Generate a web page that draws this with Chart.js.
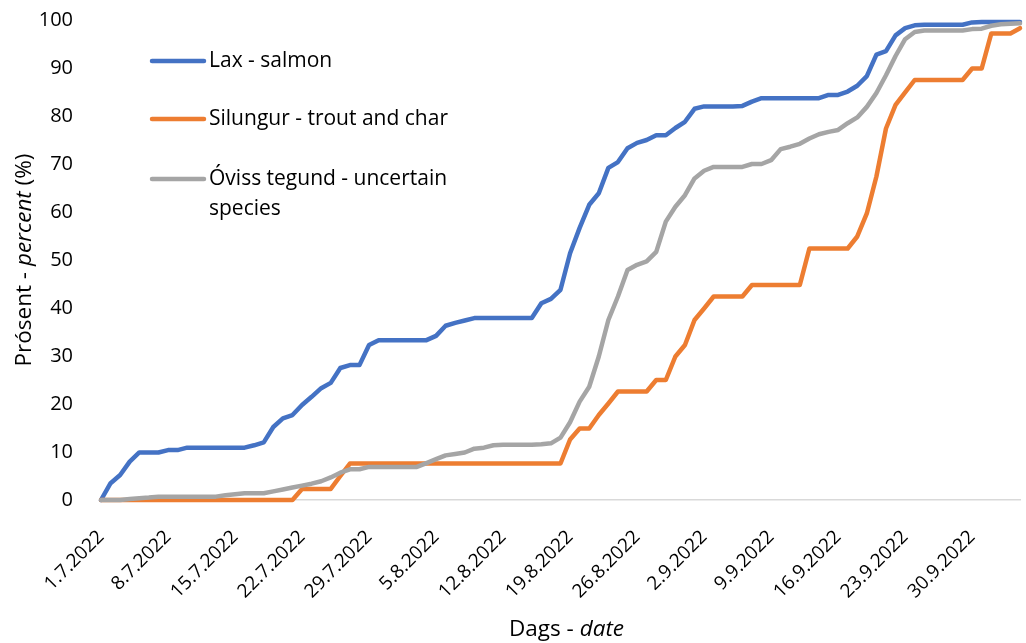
<!DOCTYPE html>
<html>
<head>
<meta charset="utf-8">
<script src="https://cdn.jsdelivr.net/npm/chart.js@4.4.1/dist/chart.umd.min.js"></script>
<style>
  body { margin: 0; background: #fff; }
  #wrap { width: 1026px; height: 643px; }
</style>
</head>
<body>
<div id="wrap"><canvas id="chart" width="1026" height="643"></canvas></div>
<script>
// Cumulative share (%) of catch per day, 1.7.2022 - 5.10.2022
const salmon = [
  0, 3.5, 5.2, 8, 9.9, 9.9, 9.9, 10.4, 10.4, 10.9,
  10.9, 10.9, 10.9, 10.9, 10.9, 10.9, 11.4, 12, 15.2, 17,
  17.7, 19.8, 21.5, 23.3, 24.4, 27.5, 28.1, 28.1, 32.3, 33.3,
  33.3, 33.3, 33.3, 33.3, 33.3, 34.2, 36.3, 36.9, 37.4, 37.9,
  37.9, 37.9, 37.9, 37.9, 37.9, 37.9, 41, 41.9, 43.8, 51.4,
  56.7, 61.5, 63.9, 69.2, 70.4, 73.3, 74.4, 75, 76, 76,
  77.5, 78.8, 81.5, 82, 82, 82, 82, 82.1, 83, 83.7,
  83.7, 83.7, 83.7, 83.7, 83.7, 83.7, 84.4, 84.4, 85.1, 86.3,
  88.3, 92.8, 93.5, 96.8, 98.3, 98.9, 99, 99, 99, 99,
  99, 99.5, 99.6, 99.6, 99.6, 99.6, 99.6
];
const troutChar = [
  0, 0, 0, 0, 0, 0, 0, 0, 0, 0,
  0, 0, 0, 0, 0, 0, 0, 0, 0, 0,
  0, 2.3, 2.3, 2.3, 2.3, 5, 7.6, 7.6, 7.6, 7.6,
  7.6, 7.6, 7.6, 7.6, 7.6, 7.6, 7.6, 7.6, 7.6, 7.6,
  7.6, 7.6, 7.6, 7.6, 7.6, 7.6, 7.6, 7.6, 7.6, 12.6,
  14.9, 14.9, 17.7, 20.1, 22.6, 22.6, 22.6, 22.6, 25, 25,
  29.9, 32.3, 37.5, 39.9, 42.4, 42.4, 42.4, 42.4, 44.8, 44.8,
  44.8, 44.8, 44.8, 44.8, 52.4, 52.4, 52.4, 52.4, 52.4, 54.9,
  59.7, 67.4, 77.4, 82.3, 84.9, 87.5, 87.5, 87.5, 87.5, 87.5,
  87.5, 89.9, 89.9, 97.2, 97.2, 97.2, 98.3
];
const uncertain = [
  0, 0, 0, 0.2, 0.35, 0.5, 0.7, 0.7, 0.7, 0.7,
  0.7, 0.7, 0.7, 1, 1.2, 1.4, 1.4, 1.4, 1.8, 2.2,
  2.6, 3, 3.4, 3.9, 4.7, 5.7, 6.4, 6.4, 6.9, 6.9,
  6.9, 6.9, 6.9, 6.9, 7.7, 8.5, 9.3, 9.6, 9.9, 10.7,
  10.9, 11.4, 11.5, 11.5, 11.5, 11.5, 11.6, 11.8, 13, 16.2,
  20.5, 23.6, 29.9, 37.5, 42.4, 47.9, 49, 49.7, 51.7, 58,
  61.1, 63.5, 67, 68.6, 69.4, 69.4, 69.4, 69.4, 70, 70,
  70.8, 73.1, 73.6, 74.2, 75.3, 76.2, 76.7, 77.1, 78.5, 79.7,
  81.9, 84.8, 88.5, 92.5, 96, 97.5, 97.8, 97.8, 97.8, 97.8,
  97.8, 98.1, 98.2, 98.8, 99.1, 99.2, 99.3
];
const seriesNames = ['Lax - salmon', 'Silungur - trout and char', 'Óviss tegund - uncertain species'];
const legendLines = [['Lax - salmon'], ['Silungur - trout and char'], ['Óviss tegund - uncertain', 'species']];
const tickLabels = ['1.7.2022', '8.7.2022', '15.7.2022', '22.7.2022', '29.7.2022', '5.8.2022', '12.8.2022',
  '19.8.2022', '26.8.2022', '2.9.2022', '9.9.2022', '16.9.2022', '23.9.2022', '30.9.2022'];
const yTicks = [0, 10, 20, 30, 40, 50, 60, 70, 80, 90, 100];

// one category per day
const dates = [];
for (let i = 0; i < salmon.length; i++) {
  const d = new Date(2022, 6, 1 + i);
  dates.push(`${d.getDate()}.${d.getMonth() + 1}.${d.getFullYear()}`);
}

const FONT = '"Open Sans", Lato, sans-serif';
const TEXT = '#000000';

function drawRuns(ctx, runs, x, y, size) {
  const widths = runs.map(r => {
    ctx.font = `${r[1] ? 'italic ' : ''}${size}px ${FONT}`;
    return ctx.measureText(r[0]).width;
  });
  let cx = x - widths.reduce((a, b) => a + b, 0) / 2;
  runs.forEach((r, i) => {
    ctx.font = `${r[1] ? 'italic ' : ''}${size}px ${FONT}`;
    ctx.fillText(r[0], cx, y);
    cx += widths[i];
  });
}

// axis titles with italic parts, and the legend inside the plot
const extras = {
  id: 'extras',
  afterDraw(chart) {
    const { ctx, chartArea } = chart;
    ctx.save();
    ctx.fillStyle = TEXT;
    ctx.textAlign = 'left';
    ctx.textBaseline = 'middle';

    drawRuns(ctx, [['Dags - ', false], ['date', true]], (chartArea.left + chartArea.right) / 2 + 6, 630, 22.5);

    ctx.save();
    ctx.translate(25, (chartArea.top + chartArea.bottom) / 2);
    ctx.rotate(-Math.PI / 2);
    drawRuns(ctx, [['Prósent - ', false], ['percent', true], [' (%)', false]], 0, 0, 22.5);
    ctx.restore();

    const rows = [61, 119, 179];
    chart.data.datasets.forEach((ds, i) => {
      const y = rows[i];
      ctx.strokeStyle = ds.borderColor;
      ctx.lineWidth = 4.5;
      ctx.lineCap = 'round';
      ctx.beginPath();
      ctx.moveTo(152, y);
      ctx.lineTo(204, y);
      ctx.stroke();
      ctx.font = `21px ${FONT}`;
      ctx.textAlign = 'left';
      legendLines[i].forEach((t, j) => ctx.fillText(t, 209, y + j * 30));
    });
    ctx.restore();
  }
};

const ctx = document.getElementById('chart').getContext('2d');
new Chart(ctx, {
  type: 'line',
  data: {
    labels: dates,
    datasets: [
      { label: seriesNames[0], data: salmon, borderColor: '#4472C4', order: 3 },
      { label: seriesNames[1], data: troutChar, borderColor: '#ED7D31', order: 2 },
      { label: seriesNames[2], data: uncertain, borderColor: '#A5A5A5', order: 1 }
    ].map(ds => Object.assign(ds, {
      borderWidth: 4.5,
      pointRadius: 0,
      tension: 0,
      fill: false,
      clip: 6,
      borderJoinStyle: 'round',
      borderCapStyle: 'round'
    }))
  },
  options: {
    responsive: false,
    animation: false,
    devicePixelRatio: 1,
    layout: { padding: { top: 20, right: 6, left: 0, bottom: 0 } },
    plugins: {
      legend: { display: false },
      tooltip: { enabled: false }
    },
    scales: {
      x: {
        offset: false,
        grid: { display: false, drawTicks: false },
        border: { display: true, color: '#D9D9D9', width: 1.5 },
        ticks: {
          autoSkip: false,
          minRotation: 45,
          maxRotation: 45,
          padding: 26,
          color: TEXT,
          font: { family: FONT, size: 19 },
          callback: (v, i) => tickLabels.includes(dates[i]) ? dates[i] : ''
        },
        afterFit: s => {
          s.height = 143;
          s.paddingLeft = 0;
          s.paddingRight = 0;
        }
      },
      y: {
        min: 0,
        max: 100,
        afterBuildTicks: s => { s.ticks = yTicks.map(v => ({ value: v })); },
        grid: { display: false, drawTicks: false },
        border: { display: false },
        ticks: {
          padding: 28,
          color: TEXT,
          font: { family: FONT, size: 20 }
        },
        afterFit: s => {
          s.width = 101;
          s.paddingTop = 0;
          s.paddingBottom = 0;
        }
      }
    }
  },
  plugins: [extras]
});
</script>
</body>
</html>
